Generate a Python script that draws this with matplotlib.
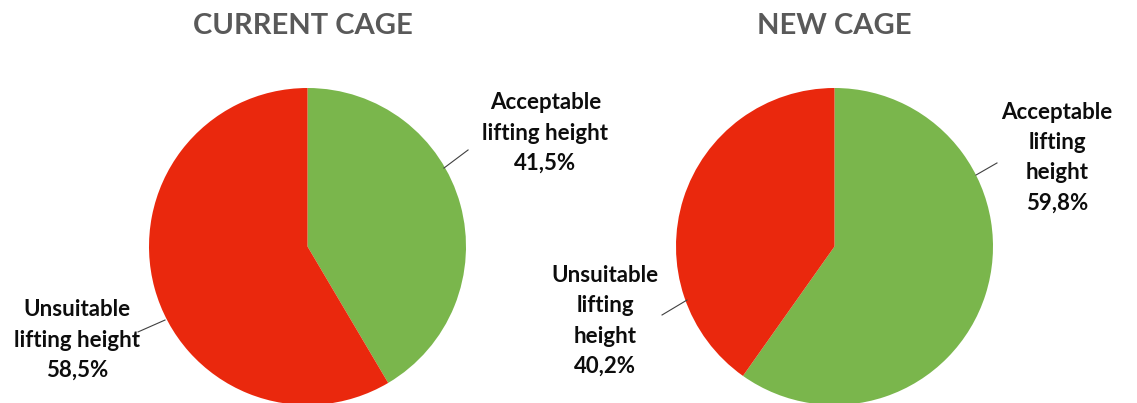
import matplotlib.pyplot as plt

titles = ['CURRENT CAGE', 'NEW CAGE']
acceptable = [41.5, 59.8]   # % acceptable lifting height
unsuitable = [58.5, 40.2]   # % unsuitable lifting height

green = '#7AB64C'
red = '#EA280D'
plt.rcParams['font.family'] = ['Lato', 'DejaVu Sans']

fig = plt.figure(figsize=(11.37, 4.03), dpi=100)
W, H = 1137, 403
R = 158.5

# label layout per pie: (text x, text y, line start, line end, text)
centers = [307.5, 834.5]
layouts = [
    [(1.50, 0.716, (0.861, 0.495), (1.013, 0.609), 'Acceptable\nlifting height\n{}%'),
     (-1.454, -0.59, (-0.899, -0.464), (-1.069, -0.539), 'Unsuitable\nlifting height\n{}%')],
    [(1.404, 0.56, (0.893, 0.451), (1.025, 0.527), 'Acceptable\nlifting\nheight\n{}%'),
     (-1.448, -0.47, (-0.931, -0.338), (-1.088, -0.432), 'Unsuitable\nlifting\nheight\n{}%')],
]

for i in range(2):
    cx = centers[i]
    ax = fig.add_axes([(cx - R) / W, (H - 246.5 - R) / H, 2 * R / W, 2 * R / H])
    vals = [acceptable[i], unsuitable[i]]
    ax.pie(vals, colors=[green, red], startangle=90, counterclock=False,
           wedgeprops=dict(linewidth=0), radius=1)
    ax.set_xlim(-1, 1)
    ax.set_ylim(-1, 1)
    ax.axis('off')
    for (tx, ty, p0, p1, txt), v in zip(layouts[i], vals):
        ax.plot([p0[0], p1[0]], [p0[1], p1[1]], color='#404040', lw=0.8, clip_on=False)
        ax.text(tx, ty, txt.format(str(v).replace('.', ',')), ha='center', va='center',
                fontsize=16, fontweight='bold', color='#0d0d0d', linespacing=1.55)
    fig.text((cx - 5 if i == 0 else cx) / W, 1 - 26 / H, titles[i], ha='center', va='center',
             fontsize=21, fontweight='bold', color='#595959')

fig.savefig('out.png', dpi=100)
